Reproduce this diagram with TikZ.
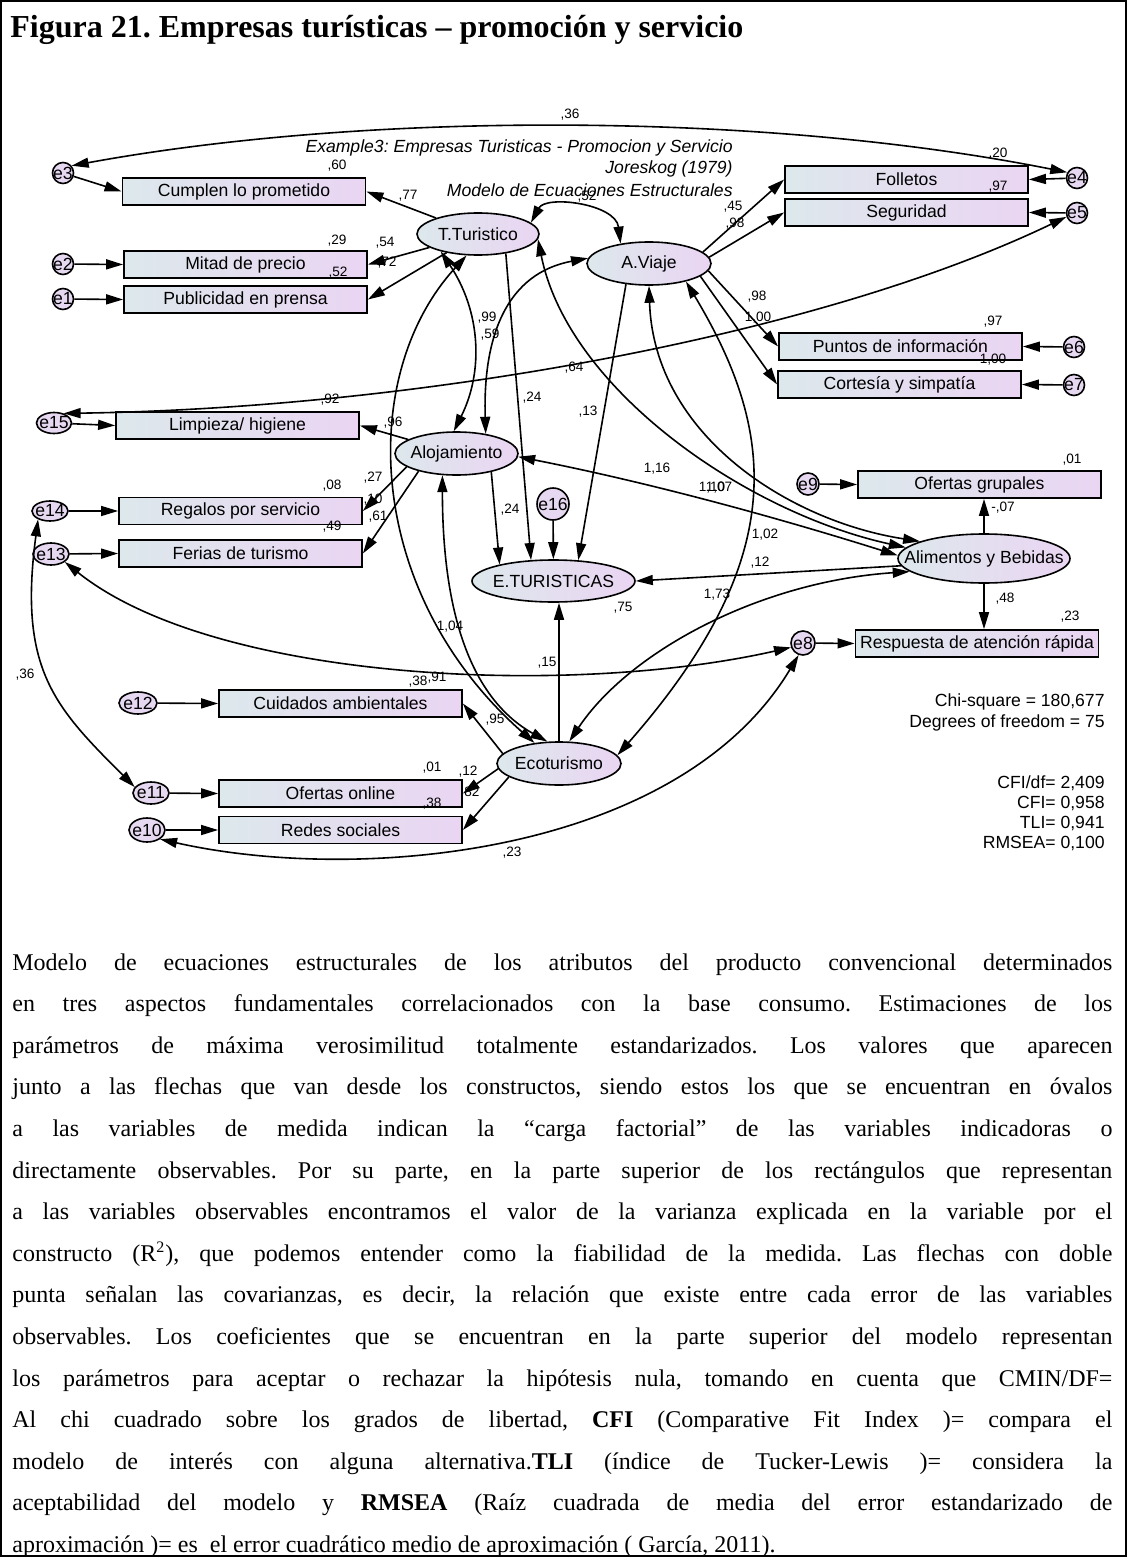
\documentclass[tikz,border=0pt]{standalone}
\usepackage{fontspec}
\setmainfont{Liberation Serif}
\newfontfamily\amosfont{Liberation Sans}
\usetikzlibrary{shapes.geometric,arrows.meta}
\definecolor{shadeL}{RGB}{221,232,236}
\definecolor{shadeR}{RGB}{234,213,243}
\definecolor{errcol}{RGB}{231,216,242}
\newcommand{\zw}[1]{\makebox[0pt]{#1}}
\newcommand{\amossize}{\amosfont\fontsize{8.8}{10.5}\selectfont}
\newcommand{\coefsize}{\amosfont\fontsize{6.8}{8}\selectfont}
\frenchspacing
\begin{document}
\begin{tikzpicture}[
  x=0.5pt, y=0.5pt,
  >={Triangle[length=8.5pt,width=5pt]},
  conn/.style={line width=0.8pt},
  obs/.style={draw, line width=0.9pt, rectangle, minimum width=121.5pt, minimum height=13.5pt, inner sep=0pt, left color=shadeL, right color=shadeR, font=\amossize},
  lat/.style={draw, line width=0.8pt, ellipse, inner sep=0pt, left color=shadeL, right color=shadeR, font=\amossize},
  err/.style={draw, line width=0.8pt, ellipse, inner sep=0pt, fill=errcol, font=\amossize},
  coef/.style={inner sep=0pt, font=\coefsize},
  note/.style={inner sep=0pt, font=\amossize, anchor=east},
]
\useasboundingbox (0,0) rectangle (1127,-1557);
\draw[line width=1pt] (1,-1) rectangle (1126,-1556);

% caption
\node[anchor=base west, inner sep=0pt, font=\bfseries\fontsize{16}{19}\selectfont] (title) at (10,-38) {Figura 21. Empresas turísticas – promoción y servicio};

% model header
\node[note, font=\amossize\itshape] (hd1) at (733,-148) {Example3: Empresas Turisticas - Promocion y Servicio};
\node[note, font=\amossize\itshape] (hd2) at (733,-169) {Joreskog (1979)};
\node[note, font=\amossize\itshape] (hd3) at (733,-190) {Modelo de Ecuaciones Estructurales};

% observed variables
\node[obs] (cump)  at (244,-191.5) {Cumplen lo prometido};
\node[obs] (mitad) at (245.5,-264.5) {Mitad de precio};
\node[obs] (publ)  at (245.5,-299.5) {Publicidad en prensa};
\node[obs] (foll)  at (906.5,-179.5) {Folletos};
\node[obs] (segu)  at (906.5,-212.5) {Seguridad};
\node[obs] (punt)  at (900.5,-346.5) {Puntos de información};
\node[obs] (cort)  at (899.5,-384.5) {Cortesía y simpatía};
\node[obs] (limp)  at (237.5,-425.5) {Limpieza/ higiene};
\node[obs] (rega)  at (240.5,-511) {Regalos por servicio};
\node[obs] (feri)  at (240.5,-553.5) {Ferias de turismo};
\node[obs] (ofgr)  at (979.5,-484.5) {Ofertas grupales};
\node[obs] (resp)  at (977,-643.5) {Respuesta de atención rápida};
\node[obs] (cuid)  at (340.5,-703.5) {Cuidados ambientales};
\node[obs] (ofon)  at (340.5,-793.5) {Ofertas online};
\node[obs] (rede)  at (340.5,-830) {Redes sociales};

% latent variables
\node[lat, minimum width=61pt, minimum height=21pt]    (tt)   at (478,-234)   {\zw{T.Turistico}};
\node[lat, minimum width=62pt, minimum height=21.5pt]  (av)   at (649,-263.5) {\zw{A.Viaje}};
\node[lat, minimum width=61.5pt, minimum height=21.5pt](aloj) at (456.5,-453.5) {\zw{Alojamiento}};
\node[lat, minimum width=81.5pt, minimum height=21pt]  (et)   at (553.5,-581) {\zw{E.TURISTICAS}};
\node[lat, minimum width=86pt, minimum height=24.5pt]  (alim) at (984,-558.5) {\zw{Alimentos y Bebidas}};
\node[lat, minimum width=62pt, minimum height=21.5pt]  (eco)  at (559,-763.5) {\zw{Ecoturismo}};

% error terms
\node[err, minimum width=10.5pt, minimum height=10.5pt] (e3)  at (63,-173)  {\zw{e3}};
\node[err, minimum width=10.5pt, minimum height=10.5pt] (e2)  at (63,-264)  {\zw{e2}};
\node[err, minimum width=10.5pt, minimum height=10.5pt] (e1)  at (63,-299)  {\zw{e1}};
\node[err, minimum width=10.5pt, minimum height=10.5pt] (e4)  at (1077,-178) {\zw{e4}};
\node[err, minimum width=10.5pt, minimum height=10.5pt] (e5)  at (1077,-213) {\zw{e5}};
\node[err, minimum width=10.5pt, minimum height=10.5pt] (e6)  at (1074,-347) {\zw{e6}};
\node[err, minimum width=10.5pt, minimum height=10.5pt] (e7)  at (1074,-385) {\zw{e7}};
\node[err, minimum width=17.5pt, minimum height=10.5pt] (e15) at (54,-423)   {\zw{e15}};
\node[err, minimum width=18pt, minimum height=10pt]     (e14) at (50,-511)   {\zw{e14}};
\node[err, minimum width=18pt, minimum height=11pt]     (e13) at (51,-554)   {\zw{e13}};
\node[err, minimum width=11pt, minimum height=11pt]     (e9)  at (808,-484)  {\zw{e9}};
\node[err, minimum width=12pt, minimum height=12pt]     (e8)  at (803,-643)  {\zw{e8}};
\node[err, minimum width=19pt, minimum height=11pt]     (e12) at (138,-703)  {\zw{e12}};
\node[err, minimum width=18pt, minimum height=11pt]     (e11) at (151,-793)  {\zw{e11}};
\node[err, minimum width=18pt, minimum height=12pt]     (e10) at (147,-830)  {\zw{e10}};
\node[err, minimum width=16pt, minimum height=16pt]     (e16) at (553,-504)  {\zw{e16}};

% estimates
\node[coef] (c01) at (570,-115) {,36};
\node[coef] (c02) at (337,-166) {,60};
\node[coef] (c03) at (408,-196) {,77};
\node[coef] (c04) at (337,-241) {,29};
\node[coef] (c05) at (385,-243) {,54};
\node[coef] (c06) at (387,-263) {,72};
\node[coef] (c07) at (338,-273) {,52};
\node[coef] (c08) at (587,-197) {,52};
\node[coef] (c09) at (733,-207) {,45};
\node[coef] (c10) at (735,-224) {,98};
\node[coef] (c11) at (998,-154) {,20};
\node[coef] (c12) at (998,-187) {,97};
\node[coef] (c13) at (757,-297) {,98};
\node[coef] (c14) at (758,-318) {1,00};
\node[coef] (c15) at (993,-322) {,97};
\node[coef] (c16) at (993,-360) {1,00};
\node[coef] (c17) at (487,-318) {,99};
\node[coef] (c18) at (490,-335) {,59};
\node[coef] (c19) at (574,-368) {,64};
\node[coef] (c20) at (532,-398) {,24};
\node[coef] (c21) at (588,-412) {,13};
\node[coef] (c22) at (330,-400) {,92};
\node[coef] (c23) at (393,-423) {,96};
\node[coef] (c24) at (332,-486) {,08};
\node[coef] (c25) at (373,-478) {,27};
\node[coef] (c26) at (373,-500) {,10};
\node[coef] (c27) at (378,-517) {,61};
\node[coef] (c28) at (332,-527) {,49};
\node[coef] (c29) at (657,-469) {1,16};
\node[coef] (c30) at (712,-488) {1,10};
\node[coef] (c31) at (719,-488) {1,07};
\node[coef] (c32) at (510,-510) {,24};
\node[coef] (c33) at (1072,-460) {,01};
\node[coef] (c34) at (1003,-508) {-,07};
\node[coef] (c35) at (765,-535) {1,02};
\node[coef] (c36) at (760,-563) {,12};
\node[coef] (c37) at (717,-595) {1,73};
\node[coef] (c38) at (623,-608) {,75};
\node[coef] (c39) at (1005,-599) {,48};
\node[coef] (c40) at (1070,-617) {,23};
\node[coef] (c41) at (450,-627) {1,04};
\node[coef] (c42) at (547,-663) {,15};
\node[coef] (c43) at (25,-675) {,36};
\node[coef] (c44) at (418,-682) {,38};
\node[coef] (c45) at (437,-678) {,91};
\node[coef] (c46) at (495,-720) {,95};
\node[coef] (c47) at (432,-768) {,01};
\node[coef] (c48) at (468,-772) {,12};
\node[coef] (c49) at (470,-793) {,82};
\node[coef] (c50) at (432,-804) {,38};
\node[coef] (c51) at (512,-853) {,23};

% error terms to indicators
\draw[conn,->] (e3) -- (cump.west);
\draw[conn,->] (e2) -- (mitad.west);
\draw[conn,->] (e1) -- (publ.west);
\draw[conn,->] (e4) -- (foll.east);
\draw[conn,->] (e5) -- (segu.east);
\draw[conn,->] (e6) -- (punt.east);
\draw[conn,->] (e7) -- (cort.east);
\draw[conn,->] (e15) -- (limp.west);
\draw[conn,->] (e14) -- (rega.west);
\draw[conn,->] (e13) -- (feri.west);
\draw[conn,->] (e12) -- (cuid.west);
\draw[conn,->] (e11) -- (ofon.west);
\draw[conn,->] (e10) -- (rede.west);
\draw[conn,->] (e9) -- (ofgr.west);
\draw[conn,->] (e8) -- (resp.west);
\draw[conn,->] (e16) -- (et);

% factor loadings
\draw[conn,->] (tt) -- (cump.east);
\draw[conn,->] (tt) -- (mitad.east);
\draw[conn,->] (tt) -- (publ.east);
\draw[conn,->] (av.12) -- (foll.west);
\draw[conn,->] (av.6) -- (segu.west);
\draw[conn,->] (av.-7) -- (punt.west);
\draw[conn,->] (av.-14) -- (cort.west);
\draw[conn,->] (aloj) -- (limp.east);
\draw[conn,->] (aloj.195) -- (rega.east);
\draw[conn,->] (aloj.205) -- (feri.east);
\draw[conn,->] (alim.north) -- (alim.north |- ofgr.south);
\draw[conn,->] (alim.south) -- (alim.south |- resp.north);
\draw[conn,->] (eco.170) -- (cuid.east);
\draw[conn,->] (eco.185) -- (ofon.east);
\draw[conn,->] (eco.195) -- (rede.east);

% structural paths
\draw[conn,->] (aloj.-28) -- (et.163);
\draw[conn,->] (tt.-35) -- (et.137);
\draw[conn,->] (av.222) -- (et.40);
\draw[conn,->] (alim.185) -- (et.east);
\draw[conn,->] (eco.north) -- (eco.north |- et.south);

% covariances
\draw[conn,<->] (e3.40) .. controls +(300,55) and +(-300,60) .. (e4.150);
\draw[conn,<->] (tt.12) .. controls +(15,28) and +(-5,40) .. (av.145);
\draw[conn,<->] (e5.200) .. controls +(-250,-120) and +(350,5) .. (e15.45);
\draw[conn,<->] (e13.-30) .. controls +(150,-120) and +(-220,-50) .. (e8.200);
\draw[conn,<->] (e14.215) .. controls +(-20,-150) and +(-80,80) .. (e11.160);
\draw[conn,<->] (e10.-35) .. controls +(200,-45) and +(-120,-200) .. (e8.-110);
\draw[conn,<->] (tt.205) .. controls +(40,-60) and +(30,60) .. (aloj.97);
\draw[conn,<->] (av.175) .. controls +(-80,-15) and +(-3,100) .. (aloj.34);
\draw[conn,<->] (tt.242) .. controls +(-110,-120) and +(-170,150) .. (eco.140);
\draw[conn,<->] (aloj.237) .. controls +(0,-130) and +(-80,45) .. (eco.118);
\draw[conn,<->] (av.-26) .. controls +(90,-150) and +(174,198) .. (eco.8);
\draw[conn,<->] (tt.-5) .. controls +(30,-150) and +(-160,35) .. (alim.172);
\draw[conn,<->] (av.-90) .. controls +(5,-150) and +(-130,20) .. (alim.165);
\draw[conn,<->] (aloj.-3) .. controls +(127,-25) and +(-127,40) .. (alim.178);
\draw[conn,<->] (eco.65) .. controls +(60,90) and +(-150,-10) .. (alim.190);

% fit statistics
\node[note] (chi) at (1105,-702) {Chi-square = 180,677};
\node[note] (dfr) at (1105,-723) {Degrees of freedom = 75};
\node[note] (cdf) at (1105,-783) {CFI/df= 2,409};
\node[note] (cfi) at (1105,-803) {CFI= 0,958};
\node[note] (tli) at (1105,-823) {TLI= 0,941};
\node[note] (rms) at (1105,-843) {RMSEA= 0,100};

% explanatory paragraph, one justified line per box
\node[anchor=base west, inner sep=0pt, font=\fontsize{12}{20.8}\selectfont] (body) at (12,-970) {\vtop{\baselineskip=20.8pt
\hbox to 550pt{Modelo de ecuaciones estructurales de los atributos del producto convencional determinados}
\hbox to 550pt{en tres aspectos fundamentales correlacionados con la base consumo. Estimaciones de los}
\hbox to 550pt{parámetros de máxima verosimilitud totalmente estandarizados. Los valores que aparecen}
\hbox to 550pt{junto a las flechas que van desde los constructos, siendo estos los que se encuentran en óvalos}
\hbox to 550pt{a las variables de medida indican la “carga factorial” de las variables indicadoras o}
\hbox to 550pt{directamente observables. Por su parte, en la parte superior de los rectángulos que representan}
\hbox to 550pt{a las variables observables encontramos el valor de la varianza explicada en la variable por el}
\hbox to 550pt{constructo (R\textsuperscript{2}), que podemos entender como la fiabilidad de la medida. Las flechas con doble}
\hbox to 550pt{punta señalan las covarianzas, es decir, la relación que existe entre cada error de las variables}
\hbox to 550pt{observables. Los coeficientes que se encuentran en la parte superior del modelo representan}
\hbox to 550pt{los parámetros para aceptar o rechazar la hipótesis nula, tomando en cuenta que CMIN/DF=}
\hbox to 550pt{Al chi cuadrado sobre los grados de libertad, \textbf{CFI} (Comparative Fit Index )= compara el}
\hbox to 550pt{modelo de interés con alguna alternativa.\textbf{TLI} (índice de Tucker-Lewis )= considera la}
\hbox to 550pt{aceptabilidad del modelo y \textbf{RMSEA} (Raíz cuadrada de media del error estandarizado de}
\hbox{aproximación )= es\ \ el error cuadrático medio de aproximación ( García, 2011).}}};
\end{tikzpicture}
\end{document}
